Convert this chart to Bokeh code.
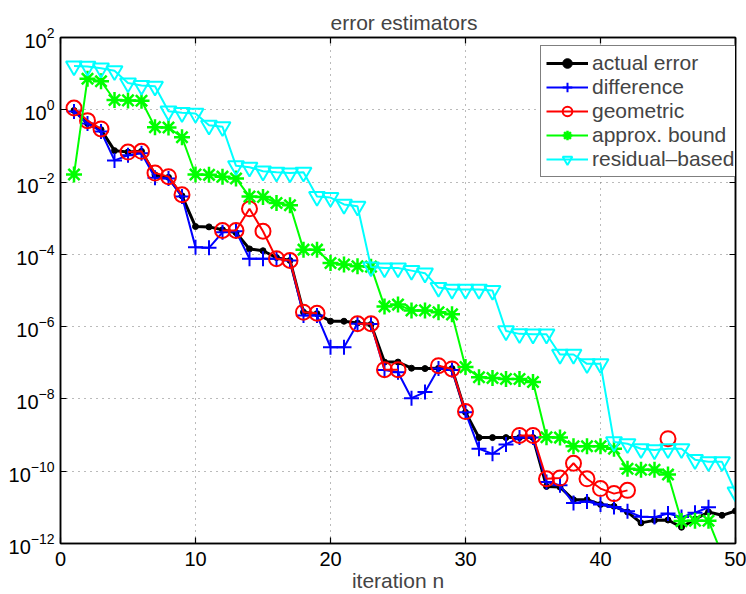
import numpy as np
from bokeh.plotting import figure
from bokeh.models import FixedTicker, LinearAxis, LogAxis, Legend, LegendItem
from bokeh.embed import file_html
from bokeh.resources import INLINE

nan = np.nan
iteration = list(range(1, 51))

# log10 of each estimator (nan = no point)
actual_log10 = [-0.02, -0.38, -0.55, -1.13, -1.17, -1.15, -1.80, -1.87, -2.38, -3.23,
                -3.24, -3.32, -3.40, -3.85, -3.90, -4.09, -4.17, -5.60, -5.64, -5.85,
                -5.85, -5.90, -5.94, -6.98, -6.98, -7.15, -7.16, -7.15, -7.16, -8.37,
                -9.07, -9.07, -9.07, -9.07, -9.07, -10.42, -10.44, -10.79, -10.79, -10.92,
                -10.97, -11.13, -11.43, -11.36, -11.35, -11.55, -11.33, -11.13, -11.22, -11.10]
difference_log10 = [-0.05, -0.38, -0.60, -1.40, -1.26, -1.20, -1.88, -1.90, -2.40, -3.80,
                    -3.82, -3.39, -3.36, -4.12, -4.12, -4.12, -4.17, -5.69, -5.69, -6.57,
                    -6.57, -5.92, -5.93, -7.20, -7.26, -7.98, -7.81, -7.16, -7.20, -8.37,
                    -9.38, -9.52, -9.26, -9.07, -9.07, -10.30, -10.39, -10.88, -10.84, -10.92,
                    -10.99, -11.11, -11.26, -11.27, -11.17, -11.27, -11.15, -11.00, nan, nan]
geometric_log10 = [0.05, -0.30, -0.53, nan, -1.17, -1.15, -1.75, -1.85, -2.35, nan,
                   nan, -3.34, -3.34, -2.74, -3.36, -4.12, -4.17, -5.60, -5.63, nan,
                   nan, -5.92, -5.92, -7.19, -7.19, nan, nan, -7.08, -7.17, -8.35,
                   nan, nan, nan, -9.01, -9.01, -10.21, -10.19, -9.78, -10.21, -10.48,
                   -10.62, -10.53, nan, nan, -9.10, nan, nan, nan, nan, nan]
approx_bound_log10 = [-1.79, 0.86, 0.79, 0.27, 0.26, 0.25, -0.48, -0.49, -0.76, -1.79,
                      -1.80, -1.85, -1.90, -2.40, -2.41, -2.58, -2.64, -3.87, -3.87, -4.24,
                      -4.28, -4.33, -4.34, -5.44, -5.39, -5.55, -5.55, -5.60, -5.66, -7.12,
                      -7.40, -7.42, -7.45, -7.45, -7.53, -9.06, -9.07, -9.31, -9.31, -9.31,
                      -9.38, -9.93, -9.96, -9.96, -10.09, -11.38, -11.37, -11.37, -12.3, -12.8]
residual_log10 = [1.21, 1.20, 1.15, 1.08, 0.74, 0.67, 0.65, -0.04, -0.08, -0.10,
                  -0.43, -0.47, -1.55, -1.59, -1.70, -1.73, -1.75, -1.73, -2.40, -2.43,
                  -2.62, -2.67, -4.35, -4.38, -4.38, -4.45, -4.52, -4.92, -4.97, -4.97,
                  -4.97, -5.00, -6.12, -6.20, -6.21, -6.21, -6.77, -6.77, -7.03, -7.03,
                  -9.19, -9.24, -9.38, -9.41, -9.38, -9.38, -9.68, -9.74, -9.74, -10.58]

x_ticks = [0, 10, 20, 30, 40, 50]
y_ticks = [1e2, 1e0, 1e-2, 1e-4, 1e-6, 1e-8, 1e-10, 1e-12]

FONT = "Liberation Sans"

p = figure(width=746, height=594, x_range=(0, 50), y_range=(1e-12, 1e2),
           y_axis_type="log", output_backend="svg", toolbar_location=None,
           min_border_left=60, min_border_right=11, min_border_top=37, min_border_bottom=51)

p.title.text = "error estimators"
p.title.align = "left"
p.title.offset = 270
p.title.text_font = FONT
p.title.text_font_size = "21px"
p.title.text_font_style = "normal"
p.title.standoff = 8

p.outline_line_color = "black"
p.outline_line_width = 1.5
p.outline_line_alpha = 1.0

def style_axis(ax):
    ax.axis_line_width = 1.5
    ax.axis_line_color = "black"
    ax.major_tick_in = 6
    ax.major_tick_out = 0
    ax.major_tick_line_width = 1.2
    ax.minor_tick_line_color = None
    ax.major_label_text_font = FONT
    ax.major_label_text_font_size = "20px"
    ax.major_label_text_color = "black"

p.xaxis.ticker = FixedTicker(ticks=x_ticks)
p.yaxis.ticker = FixedTicker(ticks=y_ticks)
style_axis(p.xaxis[0])
style_axis(p.yaxis[0])
p.xaxis.major_label_standoff = 8
p.yaxis.major_label_standoff = 6
p.xaxis.axis_label = "iteration n"
p.xaxis.axis_label_text_font = FONT
p.xaxis.axis_label_text_font_size = "21px"
p.xaxis.axis_label_text_font_style = "normal"
p.xaxis.axis_label_standoff = 0

top = LinearAxis(ticker=FixedTicker(ticks=x_ticks))
right = LogAxis(ticker=FixedTicker(ticks=y_ticks))
style_axis(top)
style_axis(right)
for ax in (top, right):
    ax.major_label_text_font_size = "1px"
    ax.major_label_text_color = None
    ax.major_label_standoff = 0
p.add_layout(top, "above")
p.add_layout(right, "right")

for g in (p.xgrid[0], p.ygrid[0]):
    g.grid_line_color = "#777777"
    g.grid_line_dash = "1 5"
    g.grid_line_width = 1

def vals(lst):
    return np.array([10.0 ** v for v in lst])

x = np.array(iteration)
items = []

r1 = p.line(x, vals(actual_log10), line_color="black", line_width=3)
r1m = p.scatter(x, vals(actual_log10), marker="circle", size=6, color="black")
items.append(LegendItem(label="actual error", renderers=[r1, r1m]))

r2 = p.line(x, vals(difference_log10), line_color="blue", line_width=2)
r2m = p.scatter(x, vals(difference_log10), marker="cross", size=15, line_color="blue", line_width=2)
items.append(LegendItem(label="difference", renderers=[r2, r2m]))

r3 = p.line(x, vals(geometric_log10), line_color="red", line_width=2)
r3m = p.scatter(x, vals(geometric_log10), marker="circle", size=15, line_color="red",
                fill_color=None, line_width=2)
items.append(LegendItem(label="geometric", renderers=[r3, r3m]))

r4 = p.line(x, vals(approx_bound_log10), line_color="#00ff00", line_width=2)
r4m = p.scatter(x, vals(approx_bound_log10), marker="asterisk", size=16, line_color="#00ff00",
                line_width=2.5)
items.append(LegendItem(label="approx. bound", renderers=[r4, r4m]))

r5 = p.line(x, vals(residual_log10), line_color="#00ffff", line_width=2)
r5m = p.scatter(x, vals(residual_log10), marker="inverted_triangle", size=16,
                line_color="#00ffff", fill_color=None, line_width=2)
items.append(LegendItem(label="residual\u2013based", renderers=[r5, r5m]))

legend = Legend(items=items, location=(480, 366), margin=0, padding=5, spacing=0,
                label_text_font=FONT, label_text_font_size="21px",
                label_height=24, glyph_height=24, glyph_width=42, label_standoff=4,
                border_line_color="black", border_line_width=1.5,
                background_fill_color="white", background_fill_alpha=1.0)
p.add_layout(legend, "center")

open("out.html", "w").write(file_html(p, INLINE))
